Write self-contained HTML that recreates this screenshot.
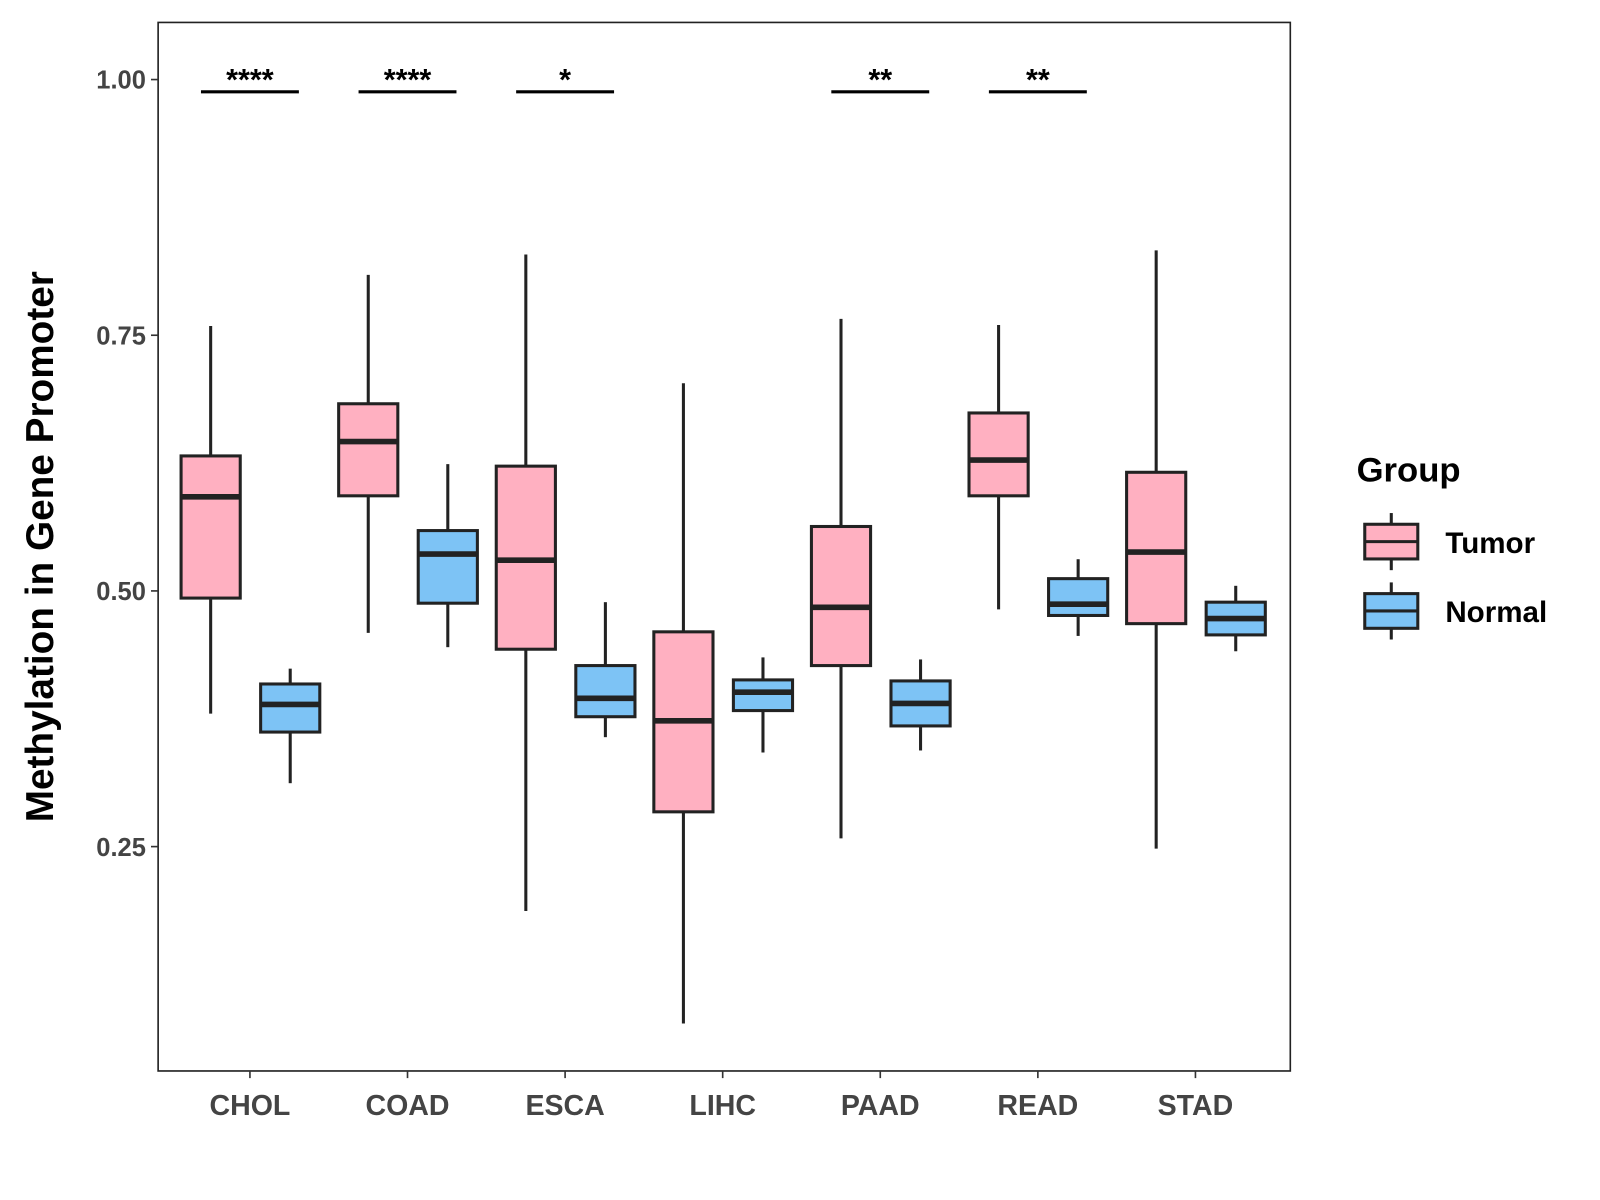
<!DOCTYPE html>
<html><head><meta charset="utf-8"><style>html,body{margin:0;padding:0;background:#fff}svg{display:block}text{font-family:"Liberation Sans",Arial,sans-serif;font-weight:bold}</style></head>
<body>
<svg id="chart" width="1600" height="1200" viewBox="0 0 1568.6 1176.5" xmlns="http://www.w3.org/2000/svg">
<rect x="155" y="22" width="1110" height="1028" fill="#fff" stroke="#222" stroke-width="1.6"/>
<g id="marks"></g>
<text x="0" y="0" transform="translate(52,536) rotate(-90)" text-anchor="middle" font-size="38" fill="#000">Methylation in Gene Promoter</text>
<g>
<text x="1330" y="472" font-size="34" fill="#000">Group</text>
<g>
<line x1="1364" y1="503" x2="1364" y2="559" stroke="#222" stroke-width="3"/>
<rect x="1338" y="514" width="52" height="34" fill="#ffb0c1" stroke="#222" stroke-width="3"/>
<line x1="1338" y1="531" x2="1390" y2="531" stroke="#222" stroke-width="3"/>
<text x="1417" y="542" font-size="29" fill="#000">Tumor</text></g>
<g>
<line x1="1364" y1="571" x2="1364" y2="627" stroke="#222" stroke-width="3"/>
<rect x="1338" y="582" width="52" height="34" fill="#7dc3f5" stroke="#222" stroke-width="3"/>
<line x1="1338" y1="599" x2="1390" y2="599" stroke="#222" stroke-width="3"/>
<text x="1417" y="610" font-size="29" fill="#000">Normal</text></g>
</g>
</svg>
<script>
const categories=["CHOL","COAD","ESCA","LIHC","PAAD","READ","STAD"];
// [lowWhisker, Q1, median, Q3, highWhisker]
const tumorStats=[[0.380,0.493,0.592,0.632,0.759],[0.459,0.593,0.646,0.683,0.809],[0.187,0.443,0.530,0.622,0.829],[0.077,0.284,0.373,0.460,0.703],[0.258,0.427,0.484,0.563,0.766],[0.482,0.593,0.628,0.674,0.760],[0.248,0.468,0.538,0.616,0.833]];
const normalStats=[[0.312,0.362,0.389,0.409,0.424],[0.445,0.488,0.536,0.559,0.624],[0.357,0.377,0.395,0.427,0.489],[0.342,0.383,0.401,0.413,0.435],[0.344,0.368,0.390,0.412,0.433],[0.456,0.476,0.487,0.512,0.531],[0.441,0.457,0.473,0.489,0.505]];
const sigLabels=["****","****","*","","**","**",""];
const sigLevel=0.988;
const yTicks=[0.25,0.50,0.75,1.00];
const yTickLabels=["0.25","0.50","0.75","1.00"];
const NS="http://www.w3.org/2000/svg";
const g=document.getElementById('marks');
function y(v){return 78+(1-v)*1002.7;}
function x(i){return 245+i*154.5;}
function mk(tag,a,p){const e=document.createElementNS(NS,tag);for(const k in a)e.setAttribute(k,a[k]);(p||g).appendChild(e);return e;}
yTicks.forEach((t,i)=>{
 const l=mk('line',{x1:148,x2:155,y1:y(t),y2:y(t),stroke:'#333','stroke-width':1.6});
 
 
 const tx=mk('text',{x:143,y:y(t)+9,'text-anchor':'end','font-size':25,fill:'#444'});
 tx.textContent=yTickLabels[i];
 
 
});
function box(cx,s,fill,name){
 const w=58;
 const grp=mk('g',{});
 
 
 mk('line',{x1:cx,x2:cx,y1:y(s[4]),y2:y(s[3]),stroke:'#222','stroke-width':3},grp);
 mk('line',{x1:cx,x2:cx,y1:y(s[1]),y2:y(s[0]),stroke:'#222','stroke-width':3},grp);
 mk('rect',{x:cx-w/2,y:y(s[3]),width:w,height:y(s[1])-y(s[3]),fill:fill,stroke:'#222','stroke-width':3},grp);
 mk('line',{x1:cx-w/2,x2:cx+w/2,y1:y(s[2]),y2:y(s[2]),stroke:'#222','stroke-width':5.5},grp);
}
categories.forEach((c,i)=>{
 const cx=x(i);
 box(cx-38.5,tumorStats[i],'#ffb0c1','box-tumor-'+c.toLowerCase());
 box(cx+39.5,normalStats[i],'#7dc3f5','box-normal-'+c.toLowerCase());
 const tk=mk('line',{x1:cx,x2:cx,y1:1050,y2:1057,stroke:'#333','stroke-width':1.6});
 
 
 const tl=mk('text',{x:cx,y:1093,'text-anchor':'middle','font-size':28,fill:'#444'});
 tl.textContent=c;
 
 
 if(sigLabels[i]){
  const b=mk('line',{x1:cx-48,x2:cx+48,y1:y(sigLevel),y2:y(sigLevel),stroke:'#000','stroke-width':3});
  
  
  const st=mk('text',{x:cx,y:y(sigLevel)-2,'text-anchor':'middle','font-size':30,fill:'#000'});
  st.textContent=sigLabels[i];
  
  
 }
});
</script>
</body></html>
